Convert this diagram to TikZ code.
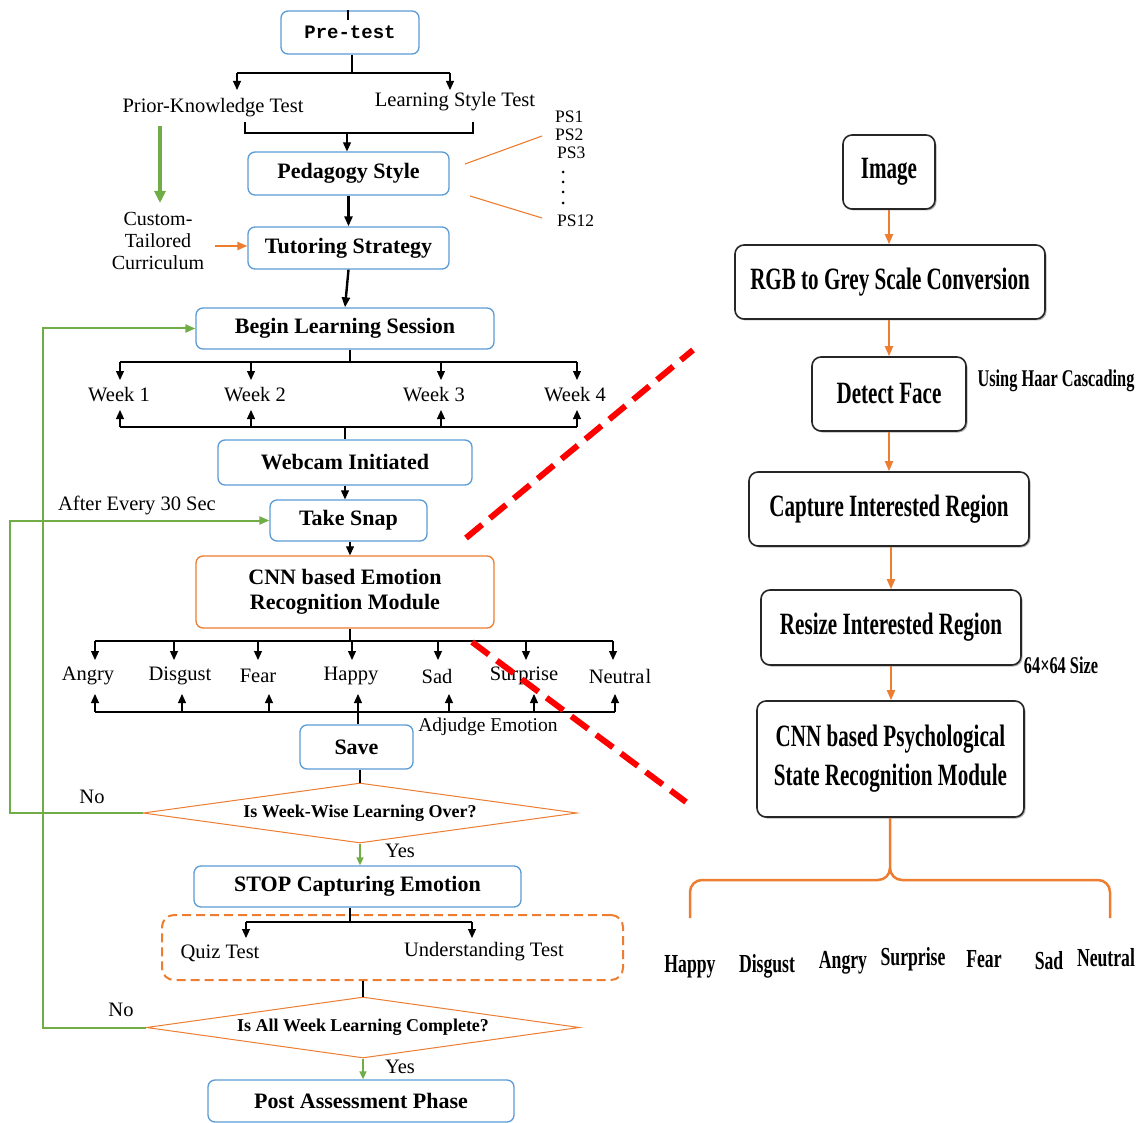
\documentclass[tikz,border=0pt]{standalone}
\usepackage{fontspec}
\setmainfont{Liberation Serif}
\newfontfamily\lsf{Liberation Serif}
\newfontfamily\rsf[FakeStretch=0.68]{Liberation Serif}
\newfontfamily\monof{Liberation Mono}
\usetikzlibrary{arrows.meta,shapes.geometric,shadows,calc}

\definecolor{bluebd}{HTML}{5B9BD5}
\definecolor{orangec}{HTML}{ED7D31}
\definecolor{greenc}{HTML}{70AD47}
\definecolor{darkbd}{HTML}{262626}

\newcommand\Lfont{\lsf\fontsize{20.5}{24}\selectfont}
\newcommand\Lbold{\lsf\bfseries\fontsize{22}{25}\selectfont}
\newcommand\Dfont{\lsf\bfseries\fontsize{18}{20}\selectfont}
\newcommand\Rbold{\rsf\bfseries\fontsize{31}{39}\selectfont}
\newcommand\Rsmall{\rsf\bfseries\fontsize{24}{28}\selectfont}
\newcommand\Remo{\rsf\bfseries\fontsize{26}{30}\selectfont}
\newcommand\PSfont{\lsf\fontsize{17.5}{19}\selectfont}

\tikzset{
  bbox/.style={draw=bluebd, line width=1.3pt, rounded corners=7pt, fill=white,
    inner sep=0pt, align=center, font=\Lbold},
  obox/.style={bbox, draw=orangec},
  rbox/.style={draw=darkbd, line width=1.6pt, rounded corners=9pt, fill=white,
    inner sep=0pt, align=center, font=\Rbold,
    drop shadow={shadow xshift=1.5pt, shadow yshift=-1.5pt, opacity=0.3, fill=black}},
  dec/.style={diamond, draw=orangec, line width=1pt, inner sep=0pt, aspect=7,
    font=\Dfont, fill=white},
  lbl/.style={inner sep=0pt, font=\Lfont, align=center},
  rlbl/.style={inner sep=0pt, font=\Remo},
  ln/.style={line width=1.1pt},
  arr/.style={line width=1.1pt, -{Triangle[length=9pt,width=8pt]}},
  thickarr/.style={line width=2.4pt, -{Triangle[length=10pt,width=8pt]}},
  garr/.style={draw=greenc, line width=2pt, -{Triangle[length=10pt,width=8pt]}},
  oarr/.style={draw=orangec, line width=2pt, -{Triangle[length=10pt,width=8pt]}},
  zoomline/.style={draw=red, line width=6pt, dash pattern=on 21pt off 10pt},
}

\begin{document}
\begin{tikzpicture}[x=1pt, y=-1pt]
\useasboundingbox (0,0) rectangle (1138,1123);

% ---------------- left flow ----------------
\node[bbox, minimum width=138pt, minimum height=43pt,
      font=\monof\bfseries\fontsize{19}{22}\selectfont] (pre) at (350,32.5) {Pre-test};
\draw[ln] (pre.north) ++(-2,0) -- ++(0,10);

\coordinate (prebar) at (352,73);
\coordinate (pkArr) at (237,90);
\coordinate (lsArr) at (450,90);
\draw[ln] (pre.south -| prebar) -- (prebar);
\draw[ln] (pkArr |- prebar) -- (lsArr |- prebar);
\draw[arr] (pkArr |- prebar) -- (pkArr);
\draw[arr] (lsArr |- prebar) -- (lsArr);

\node[lbl] (pk) at (213,108) {Prior-Knowledge Test};
\node[lbl] (ls) at (455,102) {Learning Style Test};

\node[bbox, minimum width=201pt, minimum height=43pt] (ped) at (348.5,173.5) {Pedagogy Style};
\coordinate (brL) at (245,122);
\coordinate (brR) at (473,122);
\coordinate (brM) at (347,133);
\draw[ln] (brL) -- (brL |- brM) -- (brR |- brM) -- (brR);
\draw[arr] (brM) -- (brM |- ped.north);

\node[bbox, minimum width=201pt, minimum height=42pt] (tut) at (348.5,248) {Tutoring Strategy};
\draw[thickarr] (ped.south) -- (tut.north);

\node[lbl, font=\lsf\fontsize{20}{22}\selectfont] (cur) at (158,241) {Custom-\\Tailored\\Curriculum};
\coordinate (gTop) at (160,126);
\coordinate (gBot) at (160,203);
\draw[draw=greenc, line width=3.5pt, -{Triangle[length=12pt,width=11pt]}] (gTop) -- (gBot);
\coordinate (curR) at (215,246);
\draw[oarr] (curR) -- (curR -| tut.west);

% pedagogy style list
\node[inner sep=0pt, font=\PSfont, anchor=west] (ps1) at (555,117) {PS1};
\node[inner sep=0pt, font=\PSfont, anchor=west] (ps2) at (555,135) {PS2};
\node[inner sep=0pt, font=\PSfont, anchor=west] (ps3) at (557,153) {PS3};
\node[inner sep=0pt, font=\PSfont, anchor=west] (ps12) at (557,221) {PS12};
\foreach \yy in {172,182,192,203} \fill (563,\yy) circle (1.5pt);
\coordinate (psA) at (465,164);
\coordinate (psB) at (542,136);
\coordinate (psC) at (470,196);
\coordinate (psD) at (542,218);
\draw[draw=orangec, line width=1.1pt] (psA) -- (psB);
\draw[draw=orangec, line width=1.1pt] (psC) -- (psD);

\node[bbox, minimum width=298pt, minimum height=41pt] (begin) at (345,328.5) {Begin Learning Session};
\draw[thickarr] (tut.south) -- (begin.north);

% weeks
\coordinate (wtop) at (350,362);
\coordinate (wbot) at (345,427);
\draw[ln] (begin.south -| wtop) -- (wtop);
\draw[ln] (120,362) -- (577,362);
\draw[ln] (120,427) -- (577,427);
\foreach \n/\x/\lx in {1/120/119, 2/251/255, 3/441/434, 4/577/575}{
  \node[lbl] (week\n) at (\lx,395) {Week \n};
  \coordinate (wd\n) at (\x,380);
  \coordinate (wu\n) at (\x,410);
  \draw[arr] (wd\n |- wtop) -- (wd\n);
  \draw[arr] (wu\n |- wbot) -- (wu\n);
}

\node[bbox, minimum width=254pt, minimum height=45pt] (web) at (345,462.5) {Webcam Initiated};
\draw[ln] (wbot) -- (web.north -| wbot);

\node[bbox, minimum width=157pt, minimum height=41pt] (snap) at (348.5,520.5) {Take Snap};
\draw[arr] (web.south) -- (web.south |- snap.north);

\node[obox, minimum width=298pt, minimum height=72pt] (cnn) at (345,592) {CNN based Emotion\\Recognition Module};
\draw[arr] (snap.south -| 350,0) -- (cnn.north -| 350,0);

% emotions
\coordinate (etop) at (350,641);
\coordinate (ebot) at (358,712);
\draw[ln] (cnn.south -| etop) -- (etop);
\draw[ln] (95,641) -- (613,641);
\draw[ln] (95,712) -- (615,712);
\foreach \n/\lx/\dx/\ux in {Angry/88/95/95, Disgust/180/174/182, Fear/258/258/269,
    Happy/351/352/358, Sad/437/438/449, Surprise/524/526/534}{
  \node[lbl] (e\n) at (\lx,676) {\n};
  \coordinate (ed\n) at (\dx,660);
  \coordinate (eu\n) at (\ux,694);
  \draw[arr] (ed\n |- etop) -- (ed\n);
  \draw[arr] (eu\n |- ebot) -- (eu\n);
}
\node[lbl] (eNeutral) at (620,676) {Neutra\kern1pt l};
\coordinate (edNeutral) at (613,660);
\coordinate (euNeutral) at (615,694);
\draw[arr] (edNeutral |- etop) -- (edNeutral);
\draw[arr] (euNeutral |- ebot) -- (euNeutral);
\node[lbl, font=\lsf\fontsize{19.5}{22}\selectfont] (adj) at (488,727) {Adjudge Emotion};

\node[bbox, minimum width=113pt, minimum height=44pt] (save) at (356.5,747) {Save};
\draw[ln] (ebot) -- (save.north -| ebot);

\node[dec, minimum width=434pt, minimum height=60pt] (d1) at (360,813) {Is Week-Wise Learning Over?};
\draw[ln] (save.south -| d1.north) -- (d1.north);
\node[lbl] (no1) at (92,797) {No};
\node[lbl] (aft) at (137,505) {After Every 30 Sec};
\coordinate (loop1) at (10,813);
\draw[garr] (d1.west) -- (loop1) -- (loop1 |- snap.west) -- (snap.west);

\node[bbox, minimum width=327pt, minimum height=41pt] (stop) at (357.5,886.5) {STOP Capturing Emotion};
\draw[greenc, line width=1.3pt, -{Triangle[length=8pt,width=7pt]}] (d1.south) -- (d1.south |- stop.north);
\node[lbl] (yes1) at (400,851) {Yes};

\node[draw=orangec, line width=2pt, dash pattern=on 9pt off 5pt, rounded corners=12pt,
      minimum width=461pt, minimum height=65pt, inner sep=0pt] (tests) at (392.5,947.5) {};
\coordinate (ttop) at (350,922);
\coordinate (qArr) at (246,938);
\coordinate (uArr) at (472,938);
\draw[ln] (stop.south -| ttop) -- (ttop);
\draw[ln] (qArr |- ttop) -- (uArr |- ttop);
\draw[arr] (qArr |- ttop) -- (qArr);
\draw[arr] (uArr |- ttop) -- (uArr);
\node[lbl] (quiz) at (220,953) {Quiz Test};
\node[lbl] (und) at (484,952) {Understanding Test};

\node[dec, minimum width=433pt, minimum height=61pt] (d2) at (363,1027.5) {Is All Week Learning Complete?};
\draw[ln] (tests.south -| d2.north) -- (d2.north);
\node[lbl] (no2) at (121,1010) {No};
\coordinate (loop2) at (43,1027.5);
\draw[garr] (d2.west) -- (loop2) -- (loop2 |- begin.west) -- (begin.west);

\node[bbox, minimum width=306pt, minimum height=42pt] (post) at (361,1101) {Post Assessment Phase};
\draw[greenc, line width=1.3pt, -{Triangle[length=8pt,width=7pt]}] (d2.south) -- (d2.south |- post.north);
\node[lbl] (yes2) at (400,1067) {Yes};

% ---------------- zoom guide ----------------
\coordinate (z1a) at (466,538);
\coordinate (z1b) at (693,350);
\coordinate (z2a) at (472,642);
\coordinate (z2b) at (686,802);
\draw[zoomline] (z1a) -- (z1b);
\draw[zoomline] (z2a) -- (z2b);

% ---------------- right pipeline ----------------
\node[rbox, minimum width=92pt, minimum height=74pt] (img) at (889,172) {Image};
\node[rbox, minimum width=310pt, minimum height=74pt] (rgb) at (890,282) {RGB to Grey Scale Conversion};
\node[rbox, minimum width=154pt, minimum height=74pt] (det) at (889,394) {Detect Face};
\node[rbox, minimum width=280pt, minimum height=74pt] (cap) at (889,509) {Capture Interested Region};
\node[rbox, minimum width=260pt, minimum height=75pt] (res) at (891,627.5) {Resize Interested Region};
\node[rbox, minimum width=267pt, minimum height=116pt] (psr) at (890.5,759) {CNN based Psychological\\State Recognition Module};

\draw[oarr] (img.south) -- (img.south |- rgb.north);
\draw[oarr] (rgb.south -| img.south) -- (det.north -| img.south);
\draw[oarr] (det.south -| img.south) -- (cap.north -| img.south);
\draw[oarr] (cap.south -| res.north) -- (res.north);
\draw[oarr] (res.south -| res.north) -- (psr.north -| res.north);

\node[inner sep=0pt, font=\Rsmall] (haar) at (1056,381) {Using Haar Cascading};
\node[inner sep=0pt, font=\Rsmall] (sz) at (1061,665) {64×64 Size};

% output brace
\coordinate (cusp) at (890,868);
\coordinate (bl) at (690,918);
\coordinate (br) at (1110,918);
\draw[draw=orangec, line width=2.5pt, line join=round]
  (psr.south -| cusp) -- (cusp) to[out=-90, in=0] (878,880) -- (702,880)
  to[out=180, in=90] (690,892) -- (bl);
\draw[draw=orangec, line width=2.5pt, line join=round]
  (cusp) to[out=-90, in=180] (902,880) -- (1098,880)
  to[out=0, in=90] (1110,892) -- (br);

\node[rlbl] (rHappy) at (690,967) {Happy};
\node[rlbl] (rDisgust) at (767,966) {Disgust};
\node[rlbl] (rAngry) at (843,963) {Angry};
\node[rlbl] (rSurprise) at (913,959) {Surprise};
\node[rlbl] (rFear) at (984,959) {Fear};
\node[rlbl] (rSad) at (1049,961) {Sad};
\node[rlbl] (rNeutral) at (1106,958) {Neutral};
\end{tikzpicture}
\end{document}
